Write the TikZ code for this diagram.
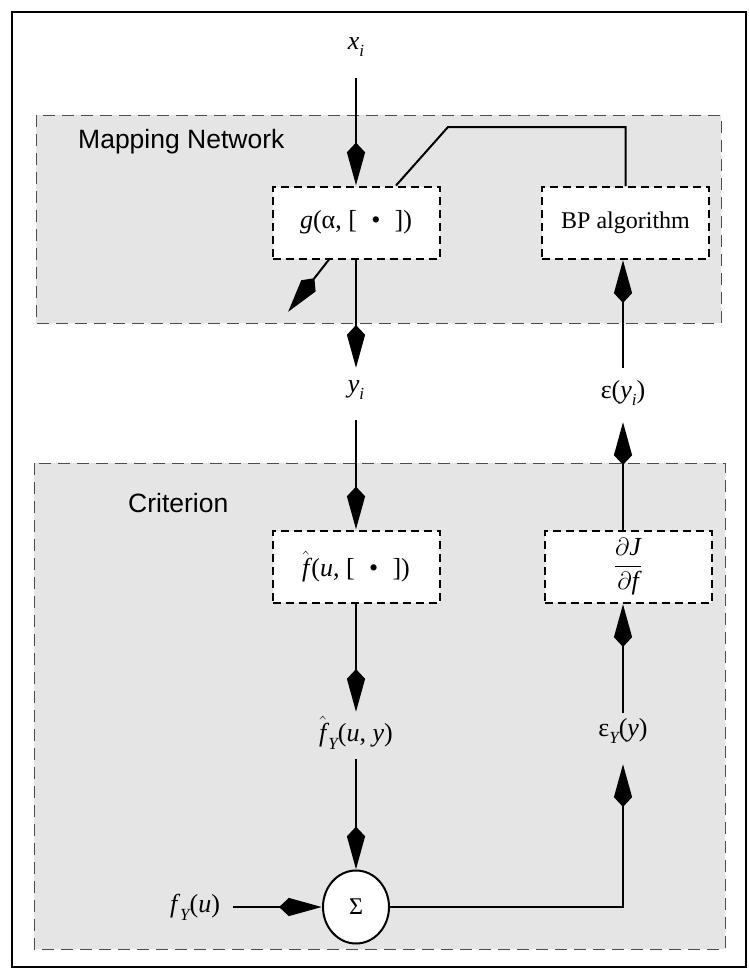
\documentclass[tikz,border=0pt]{standalone}
\usepackage{amsmath}
\usepackage{fontspec}
\setmainfont{Liberation Serif}
\newfontfamily\sanslab{Liberation Sans}
\usetikzlibrary{arrows.meta,calc,shapes.geometric}
\newcommand{\vi}[1]{{\itshape #1\/}}
\newcommand{\sbx}[1]{\raisebox{-0.3em}{\fontsize{17}{17}\selectfont\itshape #1}}
\newcommand{\fhat}{$\hat{\text{\itshape f}}$\hspace{0.08em}}
\begin{document}
\begin{tikzpicture}[x=1pt,y=-1pt,
  region/.style={draw=black!70, line width=0.8pt, dash pattern=on 12pt off 7pt, fill=black!10},
  procbox/.style={draw, fill=white, line width=2pt, dash pattern=on 8pt off 5pt, minimum width=167pt, minimum height=72pt, inner sep=0pt, font=\fontsize{26}{29}\selectfont},
  lbl/.style={inner sep=2pt, font=\fontsize{26}{30}\selectfont},
  title/.style={font=\sanslab\fontsize{26.5}{30}\selectfont, inner sep=0pt},
  conn/.style={line width=2pt},
  arr/.style={conn, -{Stealth[length=33pt,width=17pt,inset=-10pt]}},
  sumnode/.style={ellipse, draw, line width=2pt, fill=white, minimum width=66pt, minimum height=73pt, inner sep=0pt, font=\fontsize{24}{28}\selectfont}
]
\useasboundingbox (0,0) rectangle (748,969);
\fill[white] (0,0) rectangle (748,969);
\draw[line width=2.5pt] (12,12) rectangle (746,967);
\draw[region] (36,115) rectangle (721,323);
\draw[region] (34,463) rectangle (725,949);

\node[title, anchor=west] (mn) at (78,142) {Mapping Network};
\node[title, anchor=west] (cr) at (128,503) {Criterion};

\node[lbl] (xi) at (356,47) {\vi{x}\sbx{i}};
\node[procbox] (g) at (356,222.5) {\vi{g}(α, [\hspace{0.55em}•\hspace{0.55em}])};
\node[procbox, font=\fontsize{24}{29}\selectfont] (bp) at (625.5,223) {BP algorithm};
\node[lbl] (yi) at (356,390) {\vi{y}\sbx{i}};
\node[lbl] (ei) at (623,393) {ε(\vi{y}\sbx{i})};
\node[procbox] (f) at (356,566.5) {\fhat(\vi{u}, [\hspace{0.55em}•\hspace{0.55em}])};
\node[procbox] (dj) at (628,567) {$\dfrac{\partial\text{\itshape J}}{\partial\text{\itshape f}}$};
\node[lbl] (fy) at (356,733) {\fhat\sbx{Y}(\vi{u}, \vi{y})};
\node[lbl] (ey) at (623,731) {ε\sbx{Y}(\vi{y})};
\node[sumnode] (sum) at (356,907) {Σ};
\node[lbl] (fu) at (195,907) {\vi{f}\sbx{Y}(\vi{u})};

\coordinate (gout) at (288,312);
\coordinate (fb1) at (448,127);

\draw[arr] ($(xi)+(0,31)$) -- (g.north);
\draw[arr] (g.south) -- ($(yi)+(0,-22)$);
\draw[arr] ($(g.south)+(-27,0)$) -- (gout);
\draw[conn] ($(g.north)+(40,0)$) -- (fb1) -| (bp.north);
\draw[arr] ($(ei)+(0,-25)$) -- (ei |- bp.south);
\draw[arr] ($(yi)+(0,30)$) -- (f.north);
\draw[arr] (ei |- dj.north) -- ($(ei)+(0,29)$);
\draw[arr] (f.south) -- ($(fy)+(0,-21)$);
\draw[arr] ($(ey)+(0,-18)$) -- (ey |- dj.south);
\draw[arr] ($(fy)+(0,26)$) -- (sum.north);
\draw[arr] ($(fu)+(38,0)$) -- (sum.west);
\draw[arr] (sum.east) -| ($(ey)+(0,33)$);
\end{tikzpicture}
\end{document}
